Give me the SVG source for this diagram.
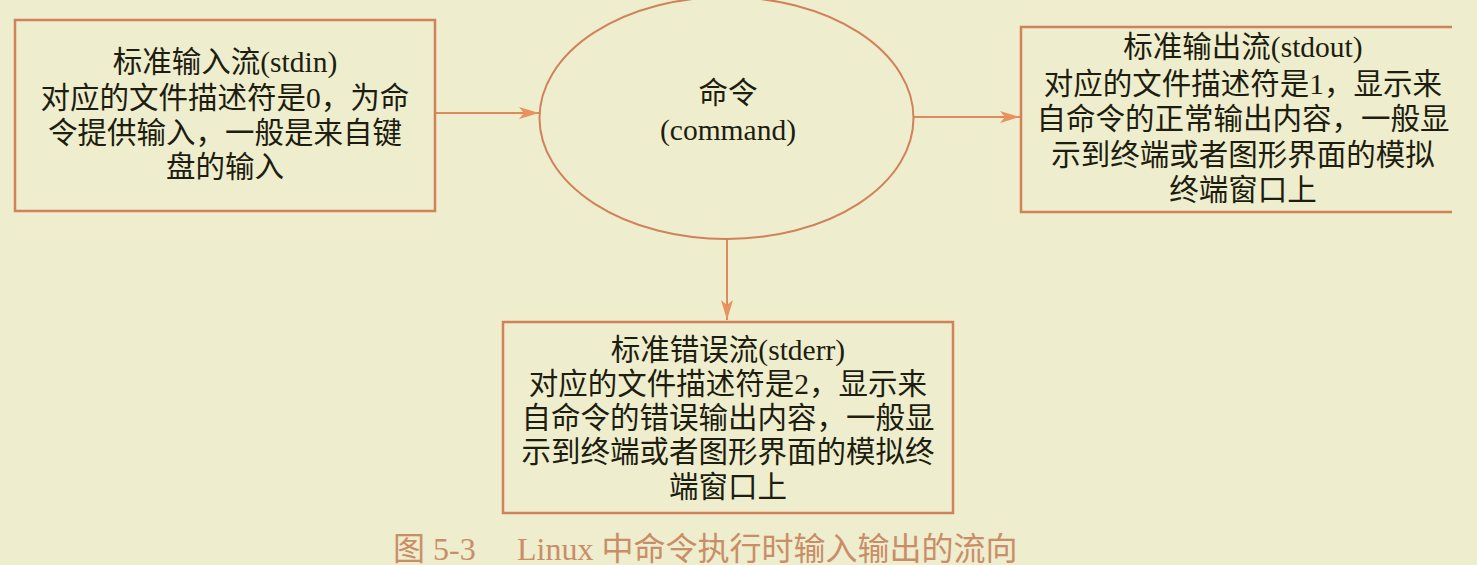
<svg xmlns="http://www.w3.org/2000/svg" width="1477" height="565" viewBox="0 0 1477 565">
<style>
.bg{fill:#eeedcd}
.box{fill:none;stroke:#d0825a;stroke-width:2.5}
.conn{stroke:#dd8a5c;stroke-width:2;fill:none}
.t{font-family:"Liberation Serif","Noto Sans CJK SC",serif;font-size:29.5px;fill:#1d1d10;text-anchor:middle}
.cap{font-family:"Liberation Serif","Noto Sans CJK SC",serif;font-size:32px;fill:#c98e68}
</style>
<defs>
<marker id="ah" markerUnits="userSpaceOnUse" markerWidth="20" markerHeight="14" refX="20" refY="7" orient="auto">
<path d="M0,1 L20,7 L0,13 L5,7 Z" fill="#e8925e"/>
</marker>
</defs>
<rect class="bg" x="0" y="0" width="1477" height="565"/>
<g id="connectors">
<line class="conn" x1="436" y1="113" x2="539" y2="113" marker-end="url(#ah)"/>
<line class="conn" x1="914" y1="117" x2="1020" y2="117" marker-end="url(#ah)"/>
<line class="conn" x1="727" y1="239" x2="727" y2="320" marker-end="url(#ah)"/>
</g>
<g id="stdin">
<rect class="box" x="15" y="20" width="420" height="191"/>
<text class="t" x="225" y="72">标准输入流(stdin)</text>
<text class="t" x="225" y="108">对应的文件描述符是0，为命</text>
<text class="t" x="225" y="143">令提供输入，一般是来自键</text>
<text class="t" x="225" y="177">盘的输入</text>
</g>
<g id="command">
<ellipse class="box" cx="726.5" cy="118" rx="187" ry="121" style="stroke-width:2"/>
<text class="t" x="728" y="103">命令</text>
<text class="t" x="728" y="140">(command)</text>
</g>
<g id="stdout">
<path class="box" d="M1452,27 H1021 V212 H1452"/>
<text class="t" x="1243" y="57">标准输出流(stdout)</text>
<text class="t" x="1243" y="94">对应的文件描述符是1，显示来</text>
<text class="t" x="1243" y="129">自命令的正常输出内容，一般显</text>
<text class="t" x="1243" y="165">示到终端或者图形界面的模拟</text>
<text class="t" x="1243" y="200">终端窗口上</text>
</g>
<g id="stderr">
<rect class="box" x="503" y="322" width="450" height="191"/>
<text class="t" x="728" y="360">标准错误流(stderr)</text>
<text class="t" x="728" y="394">对应的文件描述符是2，显示来</text>
<text class="t" x="728" y="428">自命令的错误输出内容，一般显</text>
<text class="t" x="728" y="462">示到终端或者图形界面的模拟终</text>
<text class="t" x="728" y="497">端窗口上</text>
</g>
<g id="caption">
<text class="cap" x="393" y="560">图 5-3</text>
<text class="cap" x="517" y="560">Linux 中命令执行时输入输出的流向</text>
</g>
</svg>
